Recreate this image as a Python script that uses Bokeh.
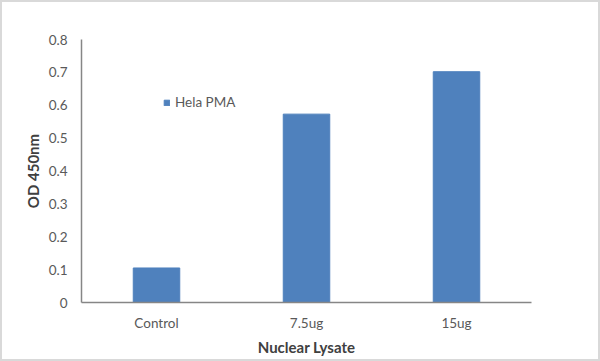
from bokeh.plotting import figure
from bokeh.models import Range1d, FixedTicker, Legend, LegendItem, ColumnDataSource
from bokeh.embed import file_html
from bokeh.resources import INLINE

categories = ["Control", "7.5ug", "15ug"]
values = [0.105, 0.573, 0.702]
series_name = "Hela PMA"
y_ticks = [0, 0.1, 0.2, 0.3, 0.4, 0.5, 0.6, 0.7, 0.8]
y_tick_labels = ["0", "0.1", "0.2", "0.3", "0.4", "0.5", "0.6", "0.7", "0.8"]

FONT = "Lato"
BAR = "#4F81BD"

p = figure(x_range=categories, y_range=Range1d(0, 0.8),
           width=596, height=357, output_backend="svg", toolbar_location=None,
           min_border_left=79, min_border_right=67, min_border_top=37, min_border_bottom=57)
p.frame_width = 450
p.frame_height = 263

src = ColumnDataSource(dict(x=categories, top=values))
r = p.vbar(x="x", top="top", width=0.31, source=src, fill_color=BAR, line_color=BAR)

p.xgrid.visible = False
p.ygrid.visible = False
p.outline_line_color = None
p.styles = {"border": "2px solid #d9d9d9"}

p.yaxis.ticker = FixedTicker(ticks=y_ticks)
p.yaxis.major_label_overrides = {t: l for t, l in zip(y_ticks, y_tick_labels)}
for ax in (p.xaxis[0], p.yaxis[0]):
    ax.axis_line_color = "#868686"
    ax.axis_line_width = 1.5
    ax.major_tick_line_color = None
    ax.minor_tick_line_color = None
    ax.major_tick_out = 0
    ax.major_tick_in = 0
    ax.minor_tick_out = 0
    ax.major_label_text_font = FONT
    ax.major_label_text_font_size = "13.5px"
    ax.major_label_text_color = "#595959"
    ax.axis_label_text_font = FONT
    ax.axis_label_text_font_size = "15px"
    ax.axis_label_text_font_style = "bold"
    ax.axis_label_text_color = "#404040"

p.yaxis.axis_label = "OD 450nm"
p.yaxis.major_label_standoff = 14
p.yaxis.axis_label_standoff = 4
p.xaxis.axis_label = "Nuclear Lysate"
p.xaxis.major_label_standoff = 12
p.xaxis.axis_label_standoff = 4

legend = Legend(items=[LegendItem(label=series_name, renderers=[r])],
                location=(82, 192), orientation="vertical",
                glyph_width=7, glyph_height=7, label_standoff=5,
                label_height=14, padding=0, margin=0, spacing=0,
                border_line_color=None, background_fill_alpha=0,
                label_text_font=FONT, label_text_font_size="13.5px",
                label_text_color="#595959")
p.add_layout(legend, "center")

open("out.html", "w").write(file_html(p, INLINE))
